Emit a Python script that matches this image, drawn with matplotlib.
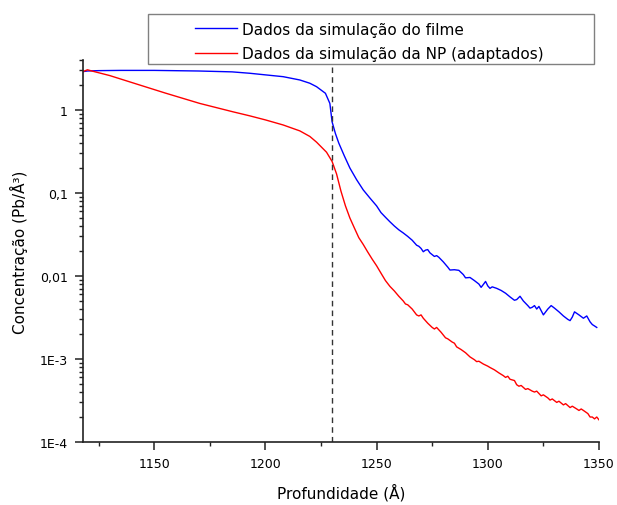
import matplotlib
matplotlib.use('Agg')
import matplotlib.pyplot as plt
from matplotlib.patches import Rectangle
from matplotlib.ticker import FixedLocator, NullFormatter

# depth (Angstrom) and concentration (Pb/A^3)
x_filme = [1118, 1120, 1125, 1135, 1150, 1170, 1185, 1193, 1200, 1208, 1215.5,
           1220, 1223, 1227, 1229, 1230, 1231.5, 1233, 1235.5, 1238,
           1241, 1244, 1247, 1250, 1252, 1254, 1256, 1258, 1260,
           1262, 1264, 1266, 1268, 1269, 1270, 1271, 1272, 1273, 1274, 1276,
           1277, 1278, 1280, 1282, 1283, 1285, 1287, 1289, 1290, 1292, 1294,
           1296, 1297, 1298, 1299, 1300, 1301, 1302, 1304, 1306, 1308, 1310,
           1312, 1313, 1314.5, 1316, 1318, 1319, 1320, 1321, 1322, 1323, 1325,
           1327, 1328.5, 1330, 1332, 1334, 1336, 1337, 1338, 1339, 1341, 1343,
           1344.5, 1346, 1347, 1348, 1349]
y_filme = [2.9, 2.95, 2.98, 3.0, 3.0, 2.95, 2.88, 2.77, 2.65, 2.52, 2.3,
           2.1, 1.91, 1.59, 1.2, 0.72, 0.52, 0.40, 0.28, 0.20,
           0.145, 0.109, 0.087, 0.070, 0.058, 0.051, 0.045, 0.040, 0.036,
           0.033, 0.030, 0.027, 0.0235, 0.0228, 0.0215, 0.0196, 0.0205, 0.0208, 0.019, 0.0172,
           0.0176, 0.0168, 0.0148, 0.0128, 0.0118, 0.0119, 0.0117, 0.0104, 0.0095, 0.0096, 0.0088,
           0.0080, 0.0073, 0.0079, 0.0086, 0.0076, 0.0071, 0.0074, 0.0071, 0.0067, 0.0062, 0.0056,
           0.0051, 0.0052, 0.0057, 0.0050, 0.0044, 0.0041, 0.0042, 0.0044, 0.0040, 0.0043, 0.0034,
           0.0040, 0.0044, 0.0041, 0.0037, 0.0033, 0.0030, 0.0029, 0.0032, 0.0037, 0.0034, 0.0031,
           0.0033, 0.0028, 0.0026, 0.0025, 0.0024]

x_np = [1118, 1120, 1122, 1130, 1143.5, 1155, 1170.5, 1185.5, 1193, 1200, 1208, 1215.5,
        1220, 1223, 1227.5, 1230, 1232, 1234, 1236, 1238, 1240, 1242, 1244,
        1246, 1248, 1250, 1252, 1254, 1256, 1258, 1260, 1262, 1263, 1264, 1266,
        1268, 1269, 1270, 1271, 1273, 1275, 1276, 1277, 1279, 1281, 1282, 1284,
        1285, 1286, 1288, 1290, 1292, 1294, 1295, 1296, 1298, 1300, 1301, 1303,
        1305, 1307, 1308, 1309, 1310, 1312, 1313, 1314, 1315, 1317, 1318, 1320,
        1321, 1322, 1324, 1325, 1327, 1328, 1329, 1331, 1332, 1334, 1335, 1337,
        1338, 1340, 1341, 1342, 1343, 1345, 1346, 1347, 1348, 1349, 1350]
y_np = [2.9, 3.05, 2.95, 2.6, 2.0, 1.6, 1.2, 0.95, 0.85, 0.76, 0.66, 0.56,
        0.48, 0.41, 0.31, 0.24, 0.17, 0.105, 0.070, 0.050, 0.038, 0.029, 0.024,
        0.0195, 0.016, 0.0133, 0.0108, 0.0088, 0.0075, 0.0066, 0.0057, 0.0050, 0.0046, 0.0045, 0.0040,
        0.0034, 0.0033, 0.0034, 0.0031, 0.0027, 0.0024, 0.0023, 0.0024, 0.0021, 0.0018, 0.00175, 0.0016,
        0.00155, 0.0014, 0.0013, 0.00119, 0.00106, 0.00098, 0.00093, 0.00094, 0.00087, 0.00082, 0.00079, 0.00074,
        0.00068, 0.00063, 0.00060, 0.00062, 0.00057, 0.00055, 0.00049, 0.00047, 0.00048, 0.00043, 0.00044, 0.00041,
        0.00040, 0.00041, 0.00036, 0.00037, 0.00034, 0.00032, 0.00033, 0.00030, 0.00031, 0.00028, 0.00029, 0.00026,
        0.00027, 0.00025, 0.00024, 0.00025, 0.00024, 0.00022, 0.00020, 0.00020, 0.00019, 0.00020, 0.000185]

x_ticks = [1150, 1200, 1250, 1300, 1350]
y_ticks = [1e-4, 1e-3, 1e-2, 1e-1, 1]
y_ticklabels = ['1E-4', '1E-3', '0,01', '0,1', '1']
x_interface = 1230

fig = plt.figure(figsize=(6.17, 5.06), dpi=100)
ax = fig.add_axes([0.1345, 0.1245, 0.8363, 0.7549])

ax.plot(x_filme, y_filme, color='#0000ff', lw=1.0, label='Dados da simulação do filme')
ax.plot(x_np, y_np, color='#ff0000', lw=1.0, label='Dados da simulação da NP (adaptados)')
ax.axvline(x_interface, color='#333333', lw=1.0, ls=(0, (4, 3)))

ax.set_yscale('log')
ax.set_xlim(1118, 1350)
ax.set_ylim(1e-4, 4)

ax.set_xticks(x_ticks)
ax.xaxis.set_minor_locator(FixedLocator([1125, 1175, 1225, 1275, 1325]))
ax.set_yticks(y_ticks)
ax.set_yticklabels(y_ticklabels)
minors = [m * 10.0 ** e for e in range(-4, 1) for m in range(2, 10)]
ax.yaxis.set_minor_locator(FixedLocator(minors))
ax.yaxis.set_minor_formatter(NullFormatter())

for s in ['top', 'right']:
    ax.spines[s].set_visible(False)
for s in ['left', 'bottom']:
    ax.spines[s].set_color('#222222')
    ax.spines[s].set_linewidth(1.2)

ax.tick_params(which='major', direction='out', length=6, width=1.1, labelsize=9, pad=5, color='#222222')
ax.tick_params(which='minor', direction='out', length=3, width=1.0, color='#222222')

ax.set_xlabel('Profundidade (Å)', fontsize=11, labelpad=9)
ax.set_ylabel('Concentração (Pb/Å³)', fontsize=11, labelpad=8)

# legend box sits partly above the axes
fig.patches.append(Rectangle((0.2399, 0.8715), 0.7229, 0.0988, transform=fig.transFigure,
                             facecolor='white', edgecolor='#808080', lw=1.0, zorder=3))
h, l = ax.get_legend_handles_labels()
leg = fig.legend(h, l, loc='center left', bbox_to_anchor=(0.316, 0.916), frameon=False,
                 fontsize=11, handlelength=2.75, handletextpad=0.35, labelspacing=0.62,
                 borderpad=0, borderaxespad=0)
leg.set_zorder(4)

fig.savefig('out.png', dpi=100)
